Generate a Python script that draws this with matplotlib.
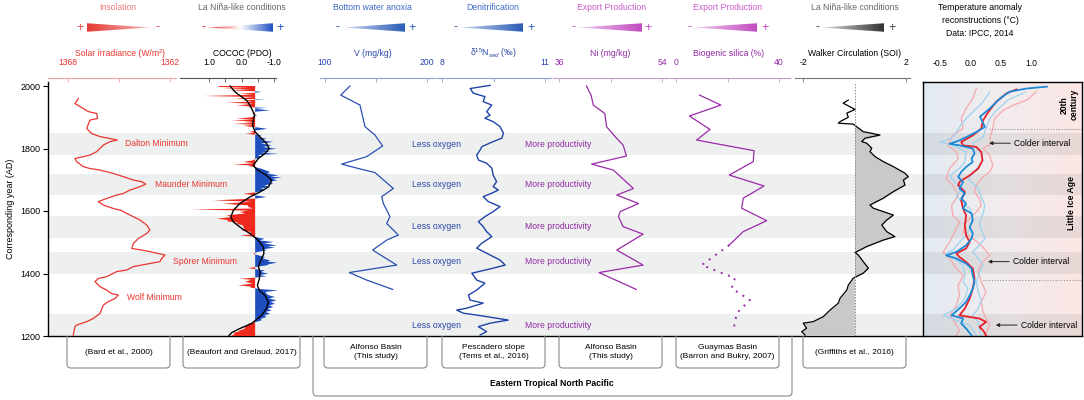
import numpy as np
import matplotlib
matplotlib.use('Agg')
import matplotlib.pyplot as plt
from matplotlib.colors import LinearSegmentedColormap
from matplotlib.patches import Polygon, PathPatch
from matplotlib.path import Path

plt.rcParams['font.family'] = ['Liberation Sans', 'DejaVu Sans']
plt.rcParams['mathtext.fontset'] = 'custom'
plt.rcParams['mathtext.rm'] = 'Liberation Sans'
plt.rcParams['mathtext.it'] = 'Liberation Sans:italic'
plt.rcParams['font.size'] = 6.2

# ---------------- data ----------------
band_top = [1850, 1720, 1585, 1470, 1270]
band_bottom = [1780, 1650, 1515, 1400, 1200]

solar_year = [1960, 1944, 1934, 1918, 1912, 1896, 1891, 1864, 1848, 1838,
              1832, 1827, 1822, 1811, 1790, 1779, 1774, 1768, 1758, 1742,
              1736, 1731, 1720, 1710, 1699, 1694, 1686, 1678, 1667, 1656,
              1651, 1640, 1630, 1619, 1608, 1603, 1587, 1571, 1555, 1539,
              1528, 1512, 1496, 1480, 1475, 1470, 1464, 1459, 1448, 1438,
              1432, 1422, 1411, 1406, 1390, 1384, 1374, 1358, 1347, 1336,
              1331, 1320, 1310, 1299, 1272, 1256, 1246, 1235, 1230, 1203]
solar_val = [1367.39, 1367.59, 1367.29, 1366.80, 1366.31, 1366.27, 1366.71, 1366.90, 1366.61, 1366.12,
             1365.53, 1365.10, 1365.53, 1365.92, 1366.31, 1366.71, 1367.10, 1367.59, 1367.49, 1367.10,
             1366.71, 1366.12, 1365.33, 1364.75, 1364.16, 1363.67, 1363.43, 1363.76, 1364.35, 1364.75,
             1365.14, 1365.73, 1366.22, 1365.92, 1365.33, 1364.94, 1364.35, 1363.76, 1363.37, 1363.18,
             1363.37, 1363.86, 1364.16, 1364.25, 1363.67, 1363.18, 1362.69, 1362.29, 1362.49, 1362.59,
             1363.18, 1364.16, 1364.55, 1365.14, 1365.73, 1366.22, 1366.41, 1366.12, 1365.73, 1365.43,
             1365.04, 1365.24, 1365.63, 1365.92, 1366.12, 1366.51, 1366.90, 1367.49, 1367.59, 1367.69]
minima_names = ['Dalton Minimum', 'Maunder Minimum', 'Spörer Minimum', 'Wolf Minimum']
minima_year = [1816, 1686, 1438, 1324]

cococ_year = [2000, 1997, 1994, 1991, 1988, 1986, 1983, 1981, 1978, 1975,
              1972, 1968, 1965, 1962, 1959, 1957, 1954, 1950, 1947, 1943,
              1938, 1935, 1933, 1930, 1927, 1922, 1918, 1912, 1906, 1900,
              1895, 1893, 1890, 1887, 1885, 1882, 1879, 1876, 1872, 1868,
              1863, 1858, 1853, 1850, 1847, 1844, 1842, 1837, 1831, 1826,
              1821, 1816, 1810, 1805, 1799, 1795, 1789, 1786, 1783, 1779,
              1773, 1766, 1762, 1757, 1753, 1748, 1746, 1744, 1740, 1735,
              1730, 1725, 1720, 1714, 1710, 1707, 1703, 1698, 1693, 1687,
              1682, 1677, 1672, 1666, 1660, 1655, 1650, 1645, 1640, 1634,
              1630, 1623, 1618, 1613, 1608, 1605, 1601, 1597, 1592, 1586,
              1581, 1575, 1571, 1567, 1563, 1559, 1554, 1549, 1543, 1538,
              1533, 1527, 1525, 1522, 1518, 1515, 1511, 1506, 1501, 1496,
              1490, 1486, 1483, 1478, 1474, 1469, 1466, 1463, 1460, 1456,
              1453, 1448, 1442, 1438, 1435, 1430, 1426, 1421, 1417, 1414,
              1410, 1405, 1399, 1395, 1391, 1387, 1383, 1380, 1373, 1368,
              1362, 1358, 1355, 1350, 1346, 1341, 1335, 1330, 1325, 1320,
              1314, 1309, 1303, 1298, 1293, 1287, 1282, 1277, 1271, 1266,
              1261, 1255, 1250, 1245, 1239, 1234, 1229, 1223, 1218, 1214,
              1210, 1206, 1202, 1200]
cococ_val = [0.70, 0.71, -0.20, 0.56, -0.30, 0.40, -0.45, -0.62, -0.35, 0.05,
             -0.38, 1.17, -0.40, -0.10, 0.20, -0.77, -0.05, -0.35, 0.46, -0.38,
             0.15, -0.35, -0.10, -0.77, -0.40, -0.88, -0.45, -0.35, -0.48, -0.30,
             0.15, -0.38, 0.30, -0.35, -0.05, -0.40, 0.25, -0.38, -0.06, -0.45,
             -0.80, -0.45, -0.26, -0.40, -0.11, -0.45, -0.62, -0.50, -0.77, -0.60,
             -0.98, -0.60, -0.93, -0.65, -1.08, -0.70, -0.88, -0.60, -1.13, -0.50,
             -0.62, -0.42, -0.35, -0.06, -0.38, 0.25, -0.30, -0.21, -0.45, -0.62,
             -0.75, -0.88, -0.80, -1.13, -0.90, -1.24, -0.95, -1.10, -0.85, -0.98,
             -0.70, -0.88, -0.60, -0.72, -0.45, -0.06, -0.42, -0.77, -0.45, 0.87,
             -0.30, 0.56, -0.20, -0.21, -0.35, 1.53, -0.20, 0.05, -0.10, 0.46,
             0.30, 0.76, 0.40, 0.46, 0.10, 0.15, -0.05, -0.05, -0.10, 0.00,
             -0.30, -0.21, -0.35, 0.05, -0.38, -0.50, -0.72, -0.55, -0.98, -0.70,
             -1.08, -0.80, -1.03, -0.70, -0.77, -0.50, -0.42, -0.36, -0.45, -0.60,
             -0.72, -0.65, -0.88, -0.80, -1.10, -0.85, -0.77, -0.45, -0.21, -0.42,
             -0.72, -0.60, -0.82, -0.55, -0.77, -0.42, 0.05, -0.30, -0.11, -0.35,
             0.10, -0.30, -0.26, -0.60, -1.13, -0.75, -0.77, -0.85, -1.03, -0.85,
             -1.08, -0.90, -1.03, -0.85, -0.98, -0.80, -0.93, -0.75, -0.88, -0.70,
             -0.77, -0.60, -0.62, -0.45, -0.21, -0.20, -0.11, -0.10, 0.05, 0.10,
             0.25, 0.20, 0.30, 0.30]
cococ_base = -0.42
cococ_smooth_year = [2000, 1981, 1965, 1954, 1938, 1922, 1906, 1890, 1874, 1853,
                     1837, 1816, 1800, 1784, 1768, 1746, 1733, 1714, 1698, 1677,
                     1661, 1645, 1624, 1602, 1581, 1565, 1544, 1528, 1506, 1485,
                     1464, 1437, 1421, 1405, 1384, 1362, 1346, 1330, 1309, 1288,
                     1266, 1240, 1224, 1211, 1202]
cococ_smooth = [0.35, 0.20, -0.01, -0.16, -0.26, -0.34, -0.40, -0.36, -0.34, -0.42,
                -0.57, -0.77, -0.85, -0.72, -0.52, -0.36, -0.47, -0.77, -0.93, -0.83,
                -0.57, -0.26, 0.05, 0.25, 0.33, 0.25, -0.01, -0.26, -0.52, -0.67,
                -0.69, -0.57, -0.52, -0.57, -0.55, -0.49, -0.55, -0.72, -0.83, -0.77,
                -0.62, -0.31, 0.05, 0.30, 0.38]

v_year = [2000, 1971, 1939, 1870, 1843, 1808, 1774, 1750, 1736, 1723, 1672,
          1646, 1624, 1582, 1560, 1523, 1507, 1475, 1427, 1403, 1379, 1349]
v_val = [124.5, 115.4, 134.3, 139.2, 149.0, 156.5, 140.8, 116.3, 132.7, 149.0, 167.0,
         155.6, 157.2, 163.7, 160.5, 171.9, 160.5, 146.7, 170.3, 123.8, 140.8, 166.4]

d15n_year = [2002, 1992, 1977, 1966, 1950, 1939, 1918, 1907, 1897, 1886,
             1870, 1849, 1833, 1822, 1806, 1795, 1779, 1763, 1753, 1737,
             1715, 1694, 1678, 1667, 1657, 1646, 1630, 1614, 1598, 1582,
             1566, 1550, 1534, 1518, 1497, 1481, 1465, 1443, 1427, 1417,
             1401, 1379, 1369, 1347, 1331, 1315, 1305, 1289, 1283, 1273,
             1267, 1251, 1241, 1230, 1214, 1203]
d15n_val = [9.40, 8.82, 8.91, 9.25, 9.20, 9.45, 9.30, 9.40, 9.25, 9.49,
            9.69, 9.79, 9.74, 9.49, 9.16, 9.11, 9.01, 9.06, 9.30, 9.45,
            9.49, 9.59, 9.49, 9.64, 9.45, 9.20, 9.35, 9.69, 9.49, 9.25,
            9.06, 9.20, 9.30, 9.45, 9.16, 9.01, 9.30, 9.69, 9.84, 9.49,
            8.87, 9.01, 9.25, 9.01, 8.77, 8.82, 9.20, 8.72, 8.43, 8.62,
            9.01, 9.93, 9.40, 9.06, 9.30, 9.11]
oxygen_year = [1814, 1685, 1550, 1438, 1235]

ni_year = [2000, 1971, 1939, 1912, 1870, 1838, 1811, 1776, 1750, 1731, 1672,
           1651, 1624, 1598, 1582, 1550, 1526, 1475, 1427, 1403, 1349]
ni_val = [40.8, 41.6, 42.0, 44.0, 44.3, 45.8, 47.2, 47.8, 41.7, 45.5, 49.0,
          46.1, 49.9, 46.7, 46.4, 47.2, 50.7, 46.1, 50.7, 43.0, 49.5]

bsi_year = [1971, 1939, 1904, 1861, 1827, 1793, 1758, 1715, 1680, 1641, 1609, 1569, 1534, 1491]
bsi_val = [9.1, 17.4, 5.2, 13.2, 8.0, 30.3, 30.0, 20.7, 34.2, 26.1, 25.5, 35.2, 26.1, 20.7]
bsi_old_year = [1491, 1427, 1385, 1353, 1315, 1273, 1219]
bsi_old_val = [20.7, 10.0, 22.9, 21.6, 28.7, 23.6, 22.3]

soi_year = [1955, 1945, 1925, 1913, 1900, 1886, 1881, 1878, 1854, 1843,
            1833, 1822, 1817, 1801, 1790, 1774, 1758, 1742, 1721, 1710,
            1699, 1683, 1662, 1641, 1619, 1609, 1587, 1571, 1555, 1534,
            1518, 1507, 1486, 1467, 1459, 1438, 1417, 1401, 1385, 1363,
            1347, 1321, 1305, 1283, 1262, 1246, 1241, 1225, 1214, 1203]
soi_val = [-0.24, -0.44, 0.02, -0.30, -0.24, -0.56, -0.63, -0.05, 0.34, 0.99,
           0.41, 0.28, 0.47, 0.67, 0.60, 0.80, 1.12, 1.51, 1.96, 2.09,
           1.90, 1.96, 1.51, 1.12, 0.60, 0.73, 1.51, 1.25, 1.06, 1.25,
           1.57, 1.12, 0.47, 0.02, 0.15, 0.34, 0.54, 0.34, -0.05, -0.24,
           -0.30, -0.56, -0.63, -0.95, -1.21, -1.60, -1.99, -1.86, -2.05, -1.92]

t_blue_year = [1998, 1992, 1982, 1960, 1928, 1902, 1869, 1853, 1842, 1826, 1815, 1810,
               1800, 1784, 1768, 1757, 1741, 1725, 1709, 1693, 1672, 1656, 1640, 1624,
               1608, 1592, 1570, 1549, 1528, 1512, 1490, 1469, 1458, 1448, 1432, 1416,
               1394, 1373, 1352, 1330, 1309, 1288, 1266, 1256, 1240, 1224, 1202]
t_blue = [1.26, 0.93, 0.65, 0.49, 0.32, 0.16, 0.24, 0.10, -0.01, -0.18, -0.34, -0.18,
          0.04, 0.07, 0.02, 0.04, -0.07, -0.15, -0.20, -0.12, -0.18, -0.09, -0.15, -0.07,
          -0.12, 0.02, 0.04, -0.01, 0.04, 0.02, -0.07, -0.23, -0.40, -0.23, -0.07, 0.02,
          0.04, 0.07, 0.04, -0.01, -0.07, -0.18, -0.31, -0.12, -0.15, -0.07, 0.02]
t_red_year = [1989, 1977, 1950, 1918, 1890, 1864, 1842, 1821, 1810, 1805, 1789, 1762,
              1736, 1714, 1693, 1682, 1661, 1634, 1608, 1586, 1554, 1522, 1501, 1480,
              1464, 1453, 1437, 1416, 1384, 1352, 1320, 1288, 1266, 1256, 1245, 1229,
              1218, 1202]
t_red = [0.76, 0.60, 0.43, 0.30, 0.21, 0.18, 0.04, -0.15, -0.12, 0.10, 0.18, 0.20,
         0.13, -0.01, -0.18, -0.20, -0.09, -0.15, -0.12, -0.07, -0.09, -0.07, -0.01, -0.07,
         -0.23, -0.18, -0.07, 0.04, 0.07, 0.04, -0.01, -0.09, -0.18, 0.15, 0.26, 0.15,
         0.21, 0.26]
t_red_hi_year = [1982, 1955, 1938, 1922, 1896, 1864, 1832, 1816, 1800, 1778, 1746, 1725,
                 1704, 1682, 1661, 1640, 1618, 1597, 1565, 1533, 1512, 1490, 1458, 1432,
                 1405, 1373, 1341, 1309, 1277, 1256, 1234, 1202]
t_red_hi = [1.09, 0.93, 0.70, 0.54, 0.40, 0.37, 0.32, 0.35, 0.21, 0.32, 0.37, 0.32,
            0.18, 0.10, 0.07, 0.15, 0.18, 0.10, -0.07, -0.12, 0.04, 0.18, 0.32, 0.18,
            0.13, 0.18, 0.26, 0.18, 0.21, 0.26, 0.32, 0.24]
t_red_lo_year = [1992, 1960, 1928, 1896, 1864, 1842, 1810, 1789, 1768, 1736, 1704, 1682,
                 1650, 1618, 1586, 1565, 1533, 1501, 1469, 1448, 1416, 1394, 1362, 1330,
                 1298, 1266, 1245, 1218, 1202]
t_red_lo = [0.10, 0.04, -0.07, -0.15, -0.12, -0.29, -0.37, -0.23, -0.20, -0.34, -0.40, -0.29,
            -0.20, -0.31, -0.29, -0.18, -0.26, -0.34, -0.45, -0.34, -0.23, -0.12, -0.20, -0.18,
            -0.23, -0.34, -0.26, -0.18, -0.23]
t_blue_lo_year = [1981, 1949, 1917, 1885, 1853, 1832, 1821, 1810, 1789, 1757, 1736, 1714,
                  1693, 1672, 1650, 1629, 1608, 1586, 1565, 1544, 1522, 1501, 1480, 1464,
                  1448, 1426, 1394, 1373, 1352, 1320, 1288, 1266, 1250, 1234, 1202]
t_blue_lo = [0.32, 0.21, 0.04, -0.12, -0.23, -0.31, -0.50, -0.29, -0.07, -0.09, -0.18, -0.34,
             -0.26, -0.12, -0.23, -0.15, -0.01, 0.04, 0.02, -0.01, -0.07, -0.18, -0.26, -0.40,
             -0.26, -0.12, -0.09, -0.12, -0.04, -0.09, -0.23, -0.45, -0.23, -0.01, 0.10]
t_blue_hi_year = [1980, 1955, 1922, 1896, 1864, 1837, 1816, 1800, 1784, 1762, 1741, 1720,
                  1704, 1688, 1672, 1645, 1618, 1592, 1565, 1538, 1512, 1490, 1469, 1448,
                  1426, 1405, 1373, 1341, 1314, 1288, 1266, 1245, 1224, 1202]
t_blue_hi = [0.90, 0.62, 0.43, 0.32, 0.26, 0.21, 0.04, 0.10, 0.18, 0.21, 0.13, 0.04,
             -0.04, 0.04, 0.13, 0.18, 0.24, 0.21, 0.15, 0.18, 0.24, 0.15, 0.04, 0.13,
             0.21, 0.15, 0.10, 0.13, 0.18, 0.13, 0.04, 0.13, 0.15, 0.18]
colder_year = [1817, 1438, 1235]

# ---------------- layout ----------------
W, H = 1084, 400
fig = plt.figure(figsize=(W / 100, H / 100), dpi=100)
BOT, HGT = (H - 336) / H, (336 - 82) / H
YLIM = (1200, 2012.8)

ax = fig.add_axes([48 / W, BOT, (923 - 48) / W, HGT], zorder=1)
ax.set_xlim(48, 923)
ax.set_ylim(*YLIM)
for s in ['top', 'right']:
    ax.spines[s].set_visible(False)
ax.spines['left'].set_linewidth(1.0)
ax.spines['bottom'].set_linewidth(1.0)
ax.set_xticks([])
ax.set_yticks([1200, 1400, 1600, 1800, 2000])
ax.tick_params(axis='y', length=3.5, width=0.8, labelsize=6.5, pad=2)
ax.set_ylabel('Corresponding year (AD)', fontsize=6.5, labelpad=4)
for t, b in zip(band_top, band_bottom):
    ax.axhspan(b, t, color='#eef0f0', lw=0, zorder=0)


def col_axes(x0, x1, pa, va, pb, vb, color, linecolor, ticks, labels):
    k = (vb - va) / (pb - pa)
    a = fig.add_axes([x0 / W, BOT, (x1 - x0) / W, HGT], zorder=2)
    a.set_xlim(va + (x0 - pa) * k, va + (x1 - pa) * k)
    a.set_ylim(*YLIM)
    a.patch.set_visible(False)
    for s in ['left', 'right', 'bottom']:
        a.spines[s].set_visible(False)
    a.spines['top'].set_position(('outward', 3))
    a.spines['top'].set_color(linecolor)
    a.spines['top'].set_linewidth(0.8)
    a.xaxis.tick_top()
    a.set_xticks(ticks)
    a.set_xticklabels(labels)
    a.tick_params(axis='x', direction='in', length=3, width=0.6, color=linecolor,
                  labelcolor=color, pad=7.5, labelsize=6.2)
    a.set_yticks([])
    return a


RED = '#e8352f'
BLUE = '#2746a6'
PURP = '#8f28a0'

# solar irradiance
a1 = col_axes(48, 176, 68, 1368, 170, 1362, RED, '#f0a0a0', [1368, 1365, 1362], ['1368', '', '1362'])
a1.plot(solar_val, solar_year, color=RED, lw=0.9, clip_on=False)
mx = [156, 191, 205, 154]
for name, yr, x in zip(minima_names, minima_year, mx):
    ax.text(x, yr, name, color=RED, ha='center', va='center', fontsize=6.2, zorder=3)

# COCOC
a2 = col_axes(180, 276, 209, 1.0, 274, -1.0, 'black', '#555555', [1.0, 0.5, 0.0, -0.5, -1.0],
              ['1.0', '', '0.0', '', '-1.0'])
cy = np.array(cococ_year)
cv = np.array(cococ_val)
a2.fill_betweenx(cy, cococ_base, cv, where=cv >= cococ_base, interpolate=True,
                 color='#ee2a1e', lw=0, clip_on=False)
a2.fill_betweenx(cy, cococ_base, cv, where=cv < cococ_base, interpolate=True,
                 color='#1f4fbf', lw=0, clip_on=False)
a2.plot(cococ_smooth, cococ_smooth_year, color='black', lw=1.0, clip_on=False)

# V
a3 = col_axes(320, 434, 325, 100, 427, 200, BLUE, '#8fa3cf', [100, 150, 200], ['100', '', '200'])
a3.plot(v_val, v_year, color='#2a4fb0', lw=0.9, clip_on=False)

# d15N
a4 = col_axes(436, 551, 442, 8, 545, 11, BLUE, '#8fa3cf', [8, 9.5, 11], ['8', '', '11'])
a4.plot(d15n_val, d15n_year, color='#1f43a8', lw=1.0, clip_on=False)
for yr in oxygen_year:
    ax.text(436, yr, 'Less oxygen', color=BLUE, ha='center', va='center', fontsize=6.2, zorder=3)

# Ni
a5 = col_axes(553, 668, 559, 36, 662, 54, PURP, '#c99ad2', [36, 45, 54], ['36', '', '54'])
a5.plot(ni_val, ni_year, color='#9a2aa8', lw=0.9, clip_on=False)
for yr in oxygen_year:
    ax.text(558, yr, 'More productivity', color=PURP, ha='center', va='center', fontsize=6.2, zorder=3)

# biogenic silica
a6 = col_axes(670, 790, 676, 0, 779, 40, PURP, '#c99ad2', [0, 20, 40], ['0', '', '40'])
a6.plot(bsi_val, bsi_year, color='#9a2aa8', lw=0.9, clip_on=False)
a6.plot(bsi_old_val, bsi_old_year, color='#9a2aa8', lw=1.4, ls=(0, (1, 3)), clip_on=False)

# SOI
a7 = col_axes(795, 910, 803, -2, 906, 2, 'black', '#777777', [-2, 2], ['-2', '2'])
sy = np.array(soi_year)
sv = np.array(soi_val)
m = sy < 1880
a7.fill_betweenx(sy[m], 0, sv[m], color='#c9c9c9', lw=0, clip_on=False)
a7.plot(sv, sy, color='black', lw=0.9, clip_on=False)
a7.plot([0, 0], [1200, 2012], color='#888888', lw=0.7, ls=(0, (1.5, 1.5)))

# temperature panel
tax = fig.add_axes([923 / W, BOT, (1082 - 923) / W, HGT], zorder=2)
k = 1.5 / 91
txl = (-0.5 - 17 * k, -0.5 + 142 * k)
grad = LinearSegmentedColormap.from_list('bg', ['#e2eaf2', '#f3ecee', '#fbe6e4'])
tax.imshow(np.linspace(0, 1, 256).reshape(1, -1), cmap=grad, aspect='auto',
           extent=(txl[0], txl[1], YLIM[0], YLIM[1]), zorder=0)
tax.set_xlim(*txl)
tax.set_ylim(*YLIM)
for t, b in zip(band_top, band_bottom):
    tax.axhspan(b, t, color='#8f8f8f', alpha=0.16, lw=0, zorder=1)
tax.xaxis.tick_top()
tax.set_xticks([-0.5, 0.0, 0.5, 1.0])
tax.set_xticklabels(['-0.5', '0.0', '0.5', '1.0'])
tax.tick_params(axis='x', length=0, pad=10, labelsize=6.2)
tax.set_yticks([])
for s in tax.spines.values():
    s.set_linewidth(1.0)
tax.plot(t_red_hi, t_red_hi_year, color='#f5a9ab', lw=0.9, zorder=2)
tax.plot(t_red_lo, t_red_lo_year, color='#f5a9ab', lw=0.9, zorder=2)
tax.plot(t_blue_lo, t_blue_lo_year, color='#9fd2ef', lw=0.9, zorder=2)
tax.plot(t_blue_hi, t_blue_hi_year, color='#9fd2ef', lw=0.9, zorder=2)
tax.plot(t_red, t_red_year, color='#e8202a', lw=1.3, zorder=3)
tax.plot(t_blue, t_blue_year, color='#1b8ad6', lw=1.3, zorder=4)
tax.plot([0.31, txl[1]], [1864, 1864], color='#999999', lw=0.8, ls=(0, (1, 1.5)), zorder=2)
tax.plot([0.21, txl[1]], [1379, 1379], color='#999999', lw=0.8, ls=(0, (1, 1.5)), zorder=2)
tip_x = [0.31, 0.29, 0.42]
for yr, tx in zip(colder_year, tip_x):
    tax.annotate('', xy=(tx, yr), xytext=(tx + 0.35, yr),
                 arrowprops=dict(arrowstyle='-|>', color='#222222', lw=0.7,
                                 mutation_scale=5, shrinkA=0, shrinkB=0), zorder=5)
    tax.text(tx + 0.41, yr, 'Colder interval', ha='left', va='center', fontsize=6.2, zorder=5)
tax.text(1.63, 1940, '20th\ncentury', rotation=90, ha='center', va='center',
         fontsize=6.2, fontweight='bold', linespacing=1.0)
tax.text(1.67, 1625, 'Little Ice Age', rotation=90, ha='center', va='center',
         fontsize=6.2, fontweight='bold')

# ---------------- header & boxes (pixel overlay) ----------------
lay = fig.add_axes([0, 0, 1, 1], zorder=10)
lay.set_autoscale_on(False)
lay.set_xlim(0, W)
lay.set_ylim(H, 0)
lay.axis('off')
lay.patch.set_visible(False)


def wedge(x0, x1, yc, h, thick_left, colors):
    if thick_left:
        pts = [(x0, yc - h / 2), (x0, yc + h / 2), (x1, yc)]
    else:
        pts = [(x0, yc), (x1, yc - h / 2), (x1, yc + h / 2)]
    poly = Polygon(pts, closed=True, fc='none', ec='none')
    lay.add_patch(poly)
    cm = LinearSegmentedColormap.from_list('w', colors)
    im = lay.imshow(np.linspace(0, 1, 200).reshape(1, -1), cmap=cm, aspect='auto',
                    extent=(x0, x1, yc + h / 2, yc - h / 2), zorder=2)
    im.set_clip_path(poly)


YW = 27.5
heads = [
    (118, 'Insolation', '#f07a7a', 80, 157, '+', '-', '#e84040', '#e84040', 87, 150, True,
     ['#e53935', '#f6b5b5']),
    (242, 'La Niña-like conditions', '#666666', 203, 280, '-', '+', '#e53030', '#1f4fbf', 208, 273, False,
     ['#e53030', '#ffffff', '#1f4fbf']),
    (372, 'Bottom water anoxia', '#3d68c4', 338, 412, '-', '+', '#2c5cb8', '#2c5cb8', 344, 405, False,
     ['#c9d6ef', '#2c5cb8']),
    (493, 'Denitrification', '#3d68c4', 455, 531, '-', '+', '#2c5cb8', '#2c5cb8', 460, 523, False,
     ['#c9d6ef', '#2c5cb8']),
    (612, 'Export Production', '#c95ac9', 573, 648, '-', '+', '#c04cc0', '#c04cc0', 578, 642, False,
     ['#f2cdf2', '#c04cc0']),
    (728, 'Export Production', '#c95ac9', 690, 765, '-', '+', '#c04cc0', '#c04cc0', 694, 757, False,
     ['#f2cdf2', '#c04cc0']),
    (855, 'La Niña-like conditions', '#666666', 817, 892, '-', '+', '#444444', '#444444', 821, 884, False,
     ['#e2e2e2', '#333333']),
]
for (xc, txt, tc, sx0, sx1, s0, s1, c0, c1, wx0, wx1, tl, cols) in heads:
    lay.text(xc, 7, txt, color=tc, ha='center', va='center', fontsize=6.2)
    lay.text(sx0, YW, s0, color=c0, ha='center', va='center', fontsize=9)
    lay.text(sx1, YW, s1, color=c1, ha='center', va='center', fontsize=9)
    wedge(wx0, wx1, YW, 8.5, tl, cols)

for i, line in enumerate(['Temperature anomaly', 'reconstructions (°C)', 'Data: IPCC, 2014']):
    lay.text(980, 7 + 13.3 * i, line, ha='center', va='center', fontsize=6.2)

titles = [(120, 'Solar irradiance (W/m²)', RED), (242, 'COCOC (PDO)', 'black'),
          (373, 'V (mg/kg)', BLUE), (493, r'δ$^{15}$N$_{sed}$ (‰)', BLUE),
          (610, 'Ni (mg/kg)', PURP), (729, 'Biogenic silica (%)', PURP),
          (855, 'Walker Circulation (SOI)', 'black')]
for xc, txt, c in titles:
    lay.text(xc, 53, txt, color=c, ha='center', va='center', fontsize=6.2)


def box(x0, x1, y1, r=4):
    verts = [(x0, 336), (x0, y1 - r), (x0, y1), (x0 + r, y1), (x1 - r, y1),
             (x1, y1), (x1, y1 - r), (x1, 336)]
    codes = [Path.MOVETO, Path.LINETO, Path.CURVE3, Path.CURVE3, Path.LINETO,
             Path.CURVE3, Path.CURVE3, Path.LINETO]
    lay.add_patch(PathPatch(Path(verts, codes), fc='none', ec='#8a8a8a', lw=0.8))


sources = [(67, 170, '(Bard et al., 2000)'), (183, 300, '(Beaufort and Grelaud, 2017)'),
           (324, 427, 'Alfonso Basin\n(This study)'), (442, 545, 'Pescadero slope\n(Tems et al., 2016)'),
           (559, 662, 'Alfonso Basin\n(This study)'), (676, 779, 'Guaymas Basin\n(Barron and Bukry, 2007)'),
           (803, 906, '(Griffiths et al., 2016)')]
for x0, x1, txt in sources:
    box(x0, x1, 368)
    lay.text((x0 + x1) / 2, 352, txt, ha='center', va='center', fontsize=6.0, linespacing=1.35)
box(313, 792, 396)
lay.text(552, 383, 'Eastern Tropical North Pacific', ha='center', va='center',
         fontsize=6.2, fontweight='bold')

fig.savefig('out.png', dpi=100)
